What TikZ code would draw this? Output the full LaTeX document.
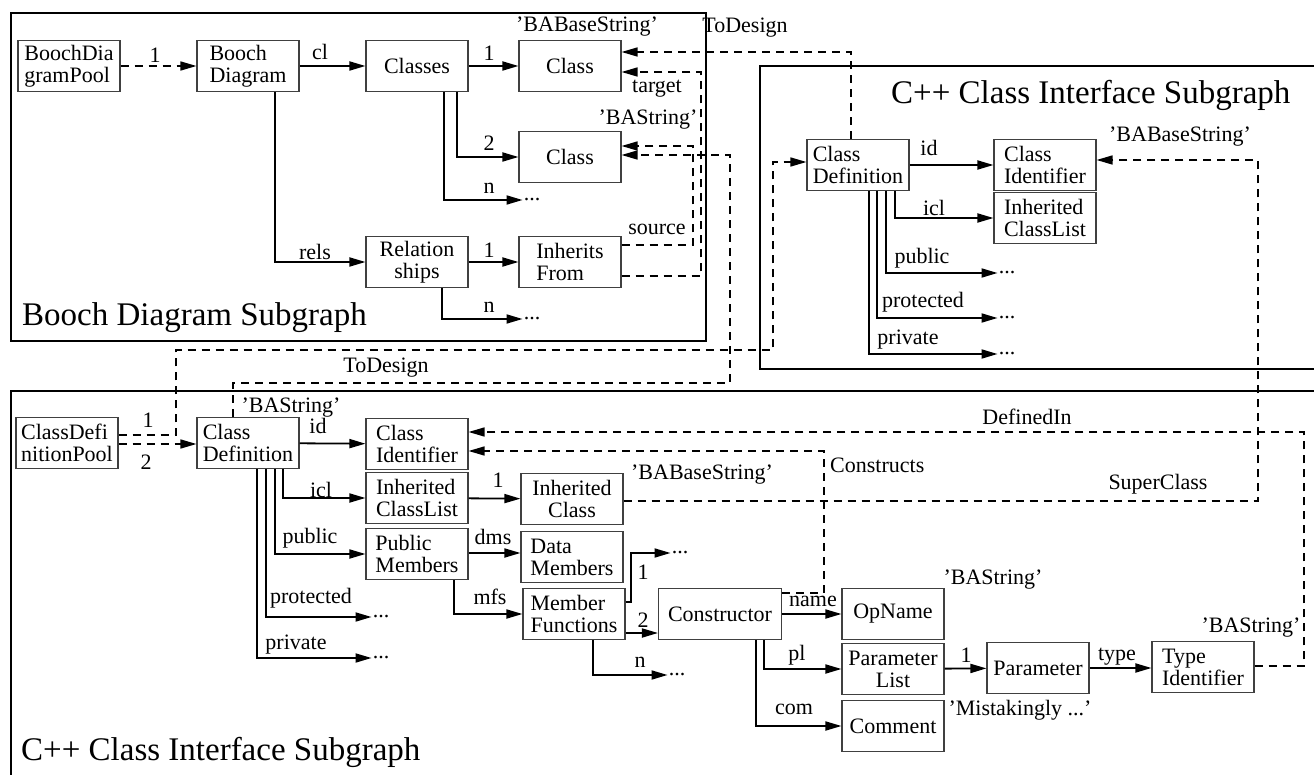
\documentclass[tikz,border=0pt]{standalone}
\usepackage{fontspec}
\setmainfont{Liberation Serif}
\usepackage{tikz}
\usetikzlibrary{arrows.meta}
\tikzset{ obj_box/.style = {rectangle, draw=black!75, line width=1.1pt, minimum width=102pt, minimum height=51pt, inner sep=2pt, align=left} }
\tikzset{ obj_mid/.style = {obj_box, align=center} }
\tikzset{ lbl/.style = {inner sep=0pt} }
\tikzset{ etc_mark/.style = {inner sep=1pt} }
\tikzset{ sub_title/.style = {anchor=west, inner sep=0pt, font=\fontsize{33}{33}\selectfont} }
\tikzset{ frame_line/.style = {line width=1.2pt} }
\tikzset{ rel_edge/.style = {line width=1.8pt, -{Triangle[length=16pt,width=9pt]}} }
\tikzset{ ref_edge/.style = {line width=1.5pt, dash pattern=on 8pt off 6pt, -{Triangle[length=16pt,width=9pt]}} }

\begin{document}
\begin{tikzpicture}[x=1pt,y=-1pt,font=\fontsize{22}{22}\selectfont]
            \useasboundingbox (0,0) rectangle (1314,775);
            \draw[style=frame_line] (11,13) rectangle (706,341);
            \draw[style=frame_line] (1318,66) -- (760,66) -- (760,369) -- (1318,369);
            \draw[style=frame_line] (1318,391) -- (11,391) -- (11,779);
            \node [style=sub_title] (t_booch) at (22,318) {Booch Diagram Subgraph};
            \node [style=sub_title] (t_cpp_r) at (891,95) {C++ Class Interface Subgraph};
            \node [style=sub_title] (t_cpp_b) at (21,752) {C++ Class Interface Subgraph};

            % Booch diagram
            \node [style=obj_box] (b_pool) at (69,66) {BoochDia\\gramPool};
            \node [style=obj_box] (b_diag) at (248,66) {Booch\\Diagram};
            \node [style=obj_mid] (classes) at (417,66) {Classes};
            \node [style=obj_mid] (class_a) at (570,66) {Class};
            \node [style=obj_mid] (class_b) at (570,157) {Class};
            \node [style=obj_mid] (relships) at (417,262) {Relation\\ships};
            \node [style=obj_box] (inh_from) at (570,262) {Inherits\\From};
            \node [style=etc_mark] (etc_cl) at (532,200) {...};
            \node [style=etc_mark] (etc_rel) at (532,319) {...};
            \draw [style=ref_edge] (b_pool) to (b_diag);
            \draw [style=rel_edge] (b_diag) to (classes);
            \draw [style=rel_edge] (classes) to (class_a);
            \draw [style=rel_edge] (classes.south -| 457,0) |- (class_b.west);
            \draw [style=rel_edge] (classes.south -| 444,0) |- (etc_cl.west);
            \draw [style=rel_edge] (b_diag.south -| 275,0) |- (relships.west);
            \draw [style=rel_edge] (relships) to (inh_from);
            \draw [style=rel_edge] (relships.south -| 442,0) |- (etc_rel.west);
            \node [style=lbl] (l_pool) at (155,55) {1};
            \node [style=lbl] (l_cl) at (320,52) {cl};
            \node [style=lbl] (l_c1) at (489,53) {1};
            \node [style=lbl] (l_c2) at (489,143) {2};
            \node [style=lbl] (l_cn) at (489,188) {n};
            \node [style=lbl] (l_rels) at (315,252) {rels};
            \node [style=lbl] (l_r1) at (489,250) {1};
            \node [style=lbl] (l_rn) at (489,307) {n};
            \node [style=lbl] (s_ca) at (587,27) {'BABaseString'};
            \node [style=lbl] (s_cb) at (648,120) {'BAString'};
            \node [style=lbl] (l_target) at (657,89) {target};
            \node [style=lbl] (l_source) at (657,229) {source};
            \draw [style=ref_edge] (inh_from.east |- 0,276) -- (701,276) -- (701,72) -- (class_a.east |- 0,72);
            \draw [style=ref_edge] (inh_from.east |- 0,245) -- (693,245) -- (693,146) -- (class_b.east |- 0,146);

            % interface, right
            \node [style=obj_box] (cdef_r) at (858,165) {Class\\Definition};
            \node [style=obj_box] (clid_r) at (1045,165) {Class\\Identifier};
            \node [style=obj_box] (icl_r) at (1045,218) {Inherited\\ClassList};
            \node [style=etc_mark] (etc_pub_r) at (1007,273) {...};
            \node [style=etc_mark] (etc_pro_r) at (1007,318) {...};
            \node [style=etc_mark] (etc_pri_r) at (1007,354) {...};
            \draw [style=rel_edge] (cdef_r) to (clid_r);
            \draw [style=rel_edge] (cdef_r.south -| 895,0) |- (icl_r.west);
            \draw [style=rel_edge] (cdef_r.south -| 886,0) |- (etc_pub_r.west);
            \draw [style=rel_edge] (cdef_r.south -| 877,0) |- (etc_pro_r.west);
            \draw [style=rel_edge] (cdef_r.south -| 869,0) |- (etc_pri_r.west);
            \node [style=lbl] (l_id_r) at (929,148) {id};
            \node [style=lbl] (l_icl_r) at (934,208) {icl};
            \node [style=lbl] (l_pub_r) at (922,258) {public};
            \node [style=lbl] (l_pro_r) at (923,302) {protected};
            \node [style=lbl] (l_pri_r) at (908,340) {private};
            \node [style=lbl] (s_clid_r) at (1180,137) {'BABaseString'};
            \node [style=lbl] (l_todes_a) at (745,28) {ToDesign};
            \draw [style=ref_edge] (cdef_r.north -| 851,0) -- (851,52) -- (class_a.east |- 0,52);

            % interface, bottom
            \node [style=obj_box] (pool_b) at (67,443) {ClassDefi\\nitionPool};
            \node [style=obj_box] (cdef_b) at (248,443) {Class\\Definition};
            \node [style=obj_box] (clid_b) at (417,444) {Class\\Identifier};
            \node [style=obj_box] (icl_b) at (417,498) {Inherited\\ClassList};
            \node [style=obj_box] (pub_b) at (417,554) {Public\\Members};
            \node [style=obj_mid] (inh_cl) at (572,499) {Inherited\\Class};
            \node [style=obj_box] (dat_m) at (572,557) {Data\\Members};
            \node [style=obj_box] (mem_f) at (574,614) {Member\\Functions};
            \node [style=obj_mid, minimum width=123pt] (ctor) at (720,614) {Constructor};
            \node [style=obj_mid] (op_name) at (893,614) {OpName};
            \node [style=obj_mid] (par_list) at (893,669) {Parameter\\List};
            \node [style=obj_mid] (comment) at (893,726) {Comment};
            \node [style=obj_mid] (param) at (1038,668) {Parameter};
            \node [style=obj_box] (type_id) at (1203,667) {Type\\Identifier};
            \node [style=etc_mark] (etc_pro_b) at (381,617) {...};
            \node [style=etc_mark] (etc_pri_b) at (381,658) {...};
            \node [style=etc_mark] (etc_mf1) at (680,553) {...};
            \node [style=etc_mark] (etc_mfn) at (677,675) {...};
            \draw [style=rel_edge] (cdef_b) to (clid_b);
            \draw [style=rel_edge] (cdef_b.south -| 283,0) |- (icl_b.west);
            \draw [style=rel_edge] (cdef_b.south -| 275,0) |- (pub_b.west);
            \draw [style=rel_edge] (cdef_b.south -| 266,0) |- (etc_pro_b.west);
            \draw [style=rel_edge] (cdef_b.south -| 257,0) |- (etc_pri_b.west);
            \draw [style=rel_edge] (icl_b) to (inh_cl);
            \draw [style=rel_edge] (pub_b.east |- 0,553) -- (dat_m.west |- 0,553);
            \draw [style=rel_edge] (pub_b.south -| 454,0) |- (mem_f.west);
            \draw [style=rel_edge] (mem_f.east |- 0,602) -- (631,602) |- (etc_mf1.west);
            \draw [style=rel_edge] (mem_f.east |- 0,633) -- (ctor.west |- 0,633);
            \draw [style=rel_edge] (mem_f.south -| 593,0) |- (etc_mfn.west);
            \draw [style=rel_edge] (ctor) to (op_name);
            \draw [style=rel_edge] (ctor.south -| 764,0) |- (par_list.west);
            \draw [style=rel_edge] (ctor.south -| 756,0) |- (comment.west);
            \draw [style=rel_edge] (par_list) to (param);
            \draw [style=rel_edge] (param.east) -- (param.east -| type_id.west);
            \node [style=lbl] (l_p1) at (148,420) {1};
            \node [style=lbl] (l_p2) at (146,462) {2};
            \node [style=lbl] (s_cdef_b) at (291,408) {'BAString'};
            \node [style=lbl] (l_id_b) at (318,426) {id};
            \node [style=lbl] (l_icl_b) at (321,490) {icl};
            \node [style=lbl] (l_pub_b) at (310,538) {public};
            \node [style=lbl] (l_pro_b) at (311,598) {protected};
            \node [style=lbl] (l_pri_b) at (296,645) {private};
            \node [style=lbl] (l_ic1) at (498,480) {1};
            \node [style=lbl] (s_inh_cl) at (702,475) {'BABaseString'};
            \node [style=lbl] (l_dms) at (493,537) {dms};
            \node [style=lbl] (l_mfs) at (490,597) {mfs};
            \node [style=lbl] (l_mf1) at (643,572) {1};
            \node [style=lbl] (l_mf2) at (643,620) {2};
            \node [style=lbl] (l_mfn) at (640,662) {n};
            \node [style=lbl] (l_name) at (813,601) {name};
            \node [style=lbl] (l_pl) at (797,655) {pl};
            \node [style=lbl] (l_com) at (794,709) {com};
            \node [style=lbl] (l_pa1) at (966,655) {1};
            \node [style=lbl] (l_type) at (1117,657) {type};
            \node [style=lbl] (s_op) at (993,580) {'BAString'};
            \node [style=lbl] (s_type) at (1251,628) {'BAString'};
            \node [style=lbl] (s_com) at (1020,710) {'Mistakingly ...'};
            \node [style=lbl] (l_todes_b) at (386,368) {ToDesign};
            \node [style=lbl] (l_defin) at (1027,417) {DefinedIn};
            \node [style=lbl, anchor=west] (l_constr) at (830,465) {Constructs};
            \node [style=lbl] (l_super) at (1158,484) {SuperClass};
            \draw [style=ref_edge] (pool_b.east |- 0,444) -- (cdef_b.west |- 0,444);
            \draw [style=ref_edge] (pool_b.east |- 0,435) -- (176,435) -- (176,350) -- (773,350) -- (773,162) -- (cdef_r.west |- 0,162);
            \draw [style=ref_edge] (cdef_b.north -| 233,0) -- (233,383) -- (730,383) -- (730,155) -- (class_b.east |- 0,155);
            \draw [style=ref_edge] (type_id.east |- 0,666) -- (1304,666) -- (1304,432) -- (clid_b.east |- 0,432);
            \draw [style=ref_edge] (ctor.east |- 0,593) -- (824,593) -- (824,451) -- (clid_b.east |- 0,451);
            \draw [style=ref_edge] (inh_cl.east |- 0,501) -- (1258,501) -- (1258,160) -- (clid_r.east |- 0,160);
\end{tikzpicture}
\end{document}
